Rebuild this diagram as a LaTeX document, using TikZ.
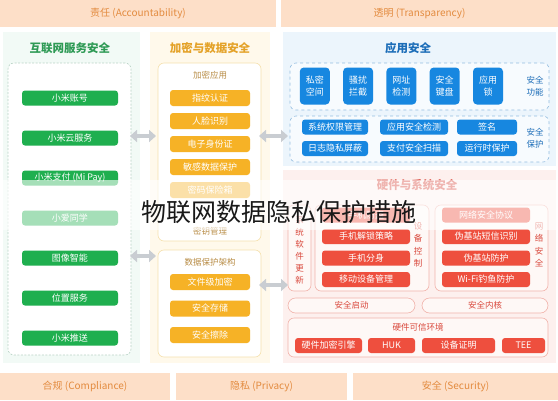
\documentclass[tikz,border=0pt]{standalone}
\usepackage{fontspec}
\setmainfont{Noto Sans CJK SC}
\usetikzlibrary{arrows.meta, positioning}
\definecolor{bandfill}{HTML}{FDDFC8}
\definecolor{bandtext}{HTML}{E38B3F}
\definecolor{mygreen}{HTML}{1FAF4F}
\definecolor{greentitle}{HTML}{2E9A55}
\definecolor{greenbg}{HTML}{F2FAF6}
\definecolor{greenline}{HTML}{B9D3C6}
\definecolor{myamber}{HTML}{F6B226}
\definecolor{ambertitle}{HTML}{E4A228}
\definecolor{amberbg}{HTML}{FFF9EB}
\definecolor{amberline}{HTML}{F5E1AE}
\definecolor{amberlabel}{HTML}{B88C45}
\definecolor{myblue}{HTML}{1787E0}
\definecolor{bluetitle}{HTML}{1C6DB8}
\definecolor{bluebg}{HTML}{ECF5FC}
\definecolor{blueline}{HTML}{94BDE0}
\definecolor{myred}{HTML}{EE4F3E}
\definecolor{redtitle}{HTML}{D9483C}
\definecolor{redbg}{HTML}{FDF0EE}
\definecolor{redline}{HTML}{F1B3AB}
\definecolor{arrowgray}{HTML}{C9CDD2}

\begin{document}
\begin{tikzpicture}[x=1pt, y=-1pt,
    band/.style={rectangle, fill=bandfill, text=bandtext, inner sep=0pt, minimum height=27pt, font=\fontsize{10}{12}\selectfont},
    panel/.style={rectangle, fill=#1, inner sep=0pt},
    ptitle/.style={text=#1, font=\fontsize{11.5}{13}\selectfont\bfseries},
    pframe/.style={rectangle, rounded corners=6pt, draw=#1, line width=0.6pt, inner sep=0pt},
    btn/.style={rectangle, rounded corners=3pt, fill=#1, text=white, inner sep=0pt, minimum height=15pt, font=\fontsize{9}{10}\selectfont},
    sublabel/.style={text=#1, font=\fontsize{8.5}{10}\selectfont, inner sep=0pt},
    vlabel/.style={text=#1, font=\fontsize{8.5}{12.5}\selectfont, align=center, inner sep=0pt},
    dbl/.style={{Triangle[width=12pt,length=7pt]}-{Triangle[width=12pt,length=7pt]}, line width=4.5pt, draw=arrowgray}
  ]
  \fill[white] (0,0) rectangle (558,400);
  \useasboundingbox (0,0) rectangle (558,400);

  % top and bottom bands
  \node[band, minimum width=276pt] (accnt) at (138,13.5) {责任 (Accountability)};
  \node[band, minimum width=277pt] (transp) at (419.5,13.5) {透明 (Transparency)};
  \node[band, minimum width=170pt] (complc) at (85,386.5) {合规 (Compliance)};
  \node[band, minimum width=171pt] (privcy) at (261.5,386.5) {隐私 (Privacy)};
  \node[band, minimum width=205pt] (securt) at (455.5,386.5) {安全 (Security)};

  % internet services
  \node[panel=greenbg, minimum width=137pt, minimum height=331pt] (inetbg) at (71.5,197.5) {};
  \node[ptitle=greentitle] (inettitle) at (70,48) {互联网服务安全};
  \node[pframe=greenline, dash pattern=on 2pt off 1.5pt, fill=white, minimum width=123pt, minimum height=292pt] (inetbox) at (69.5,209) {};
  \foreach \t [count=\i] in {小米账号, 小米云服务, 小米支付 (Mi Pay), 小爱同学, 图像智能, 位置服务, 小米推送}
    \node[btn=mygreen, minimum width=96pt] (sv\i) at (70,58+40*\i) {\t};

  % encryption and data
  \node[panel=amberbg, minimum width=120pt, minimum height=331pt] (encbg) at (210,197.5) {};
  \node[ptitle=ambertitle] (enctitle) at (210,48) {加密与数据安全};
  \node[pframe=amberline, fill=white, minimum width=103pt, minimum height=178pt] (encbox) at (209.5,152) {};
  \node[sublabel=amberlabel] (enclabel) at (210,75) {加密应用};
  \foreach \t [count=\i] in {指纹认证, 人脸识别, 电子身份证, 敏感数据保护, 密码保险箱}
    \node[btn=myamber, minimum width=80pt, minimum height=16pt] (ea\i) at (210,75+23*\i) {\t};
  \node[sublabel=amberlabel] (keymgmt) at (210,231) {密钥管理};
  \node[pframe=amberline, fill=white, minimum width=103pt, minimum height=107pt] (databox) at (209.5,303.5) {};
  \node[sublabel=amberlabel] (datalabel) at (210,262) {数据保护架构};
  \foreach \t [count=\i] in {文件级加密, 安全存储, 安全擦除}
    \node[btn=myamber, minimum width=80pt, minimum height=16pt] (dp\i) at (210,255.5+26.5*\i) {\t};

  % application security
  \node[panel=bluebg, minimum width=273pt, minimum height=134pt] (appbg) at (419.5,99) {};
  \node[ptitle=bluetitle] (apptitle) at (408,48) {应用安全};
  \node[pframe=blueline, dashed, fill=white!60!bluebg, minimum width=259pt, minimum height=47pt] (funcbox) at (419.5,86.5) {};
  \foreach \t [count=\i] in {私密\\空间, 骚扰\\拦截, 网址\\检测, 安全\\键盘, 应用\\锁}
    \node[btn=myblue, rounded corners=4pt, minimum width=30pt, minimum height=37pt, align=center, font=\fontsize{9}{11.5}\selectfont] (fn\i) at (271.5+43.3*\i,86) {\t};
  \node[vlabel=bluetitle] (funclabel) at (535,86) {安全\\功能};
  \node[pframe=blueline, dashed, fill=white!60!bluebg, minimum width=259pt, minimum height=46pt] (protbox) at (419.5,139) {};
  \node[btn=myblue, minimum width=66pt] (pr1) at (335,127) {系统权限管理};
  \node[btn=myblue, minimum width=68pt] (pr2) at (414,127) {应用安全检测};
  \node[btn=myblue, minimum width=60pt] (pr3) at (487,127) {签名};
  \node[btn=myblue, minimum width=66pt] (pr4) at (335,148.5) {日志隐私屏蔽};
  \node[btn=myblue, minimum width=68pt] (pr5) at (414,148.5) {支付安全扫描};
  \node[btn=myblue, minimum width=60pt] (pr6) at (487,148.5) {运行时保护};
  \node[vlabel=bluetitle] (protlabel) at (535,138) {安全\\保护};

  % hardware and system
  \node[panel=redbg, minimum width=273pt, minimum height=193pt] (hwbg) at (419.5,266.5) {};
  \node[ptitle=redtitle] (hwtitle) at (417,185) {硬件与系统安全};
  \node[pframe=redline, fill=white!50!redbg, minimum width=23pt, minimum height=86pt] (updbox) at (299.5,248) {};
  \node[vlabel=redtitle, font=\fontsize{8.5}{12}\selectfont] (updlabel) at (299.5,250) {系\\统\\软\\件\\更\\新};
  \node[pframe=redline, fill=white!50!redbg, minimum width=114pt, minimum height=86pt] (devbox) at (372,248) {};
  \foreach \t [count=\i] in {手机防盗, 手机解锁策略, 手机分身, 移动设备管理}
    \node[btn=myred, minimum width=88pt] (dc\i) at (366,193.5+21.5*\i) {\t};
  \node[vlabel=redtitle] (devlabel) at (418,245) {设\\备\\控\\制};
  \node[pframe=redline, fill=white!50!redbg, minimum width=113pt, minimum height=86pt] (netbox) at (491.5,248) {};
  \foreach \t [count=\i] in {网络安全协议, 伪基站短信识别, 伪基站防护, Wi-Fi钓鱼防护}
    \node[btn=myred, minimum width=88pt] (ns\i) at (486,193.5+21.5*\i) {\t};
  \node[vlabel=redtitle] (netlabel) at (539,245) {网\\络\\安\\全};
  \node[pframe=redline, rounded corners=7.5pt, fill=white!50!redbg, text=redtitle, minimum width=127pt, minimum height=15pt, font=\fontsize{8.5}{10}\selectfont] (sboot) at (351.5,305.5) {安全启动};
  \node[pframe=redline, rounded corners=7.5pt, fill=white!50!redbg, text=redtitle, minimum width=126pt, minimum height=15pt, font=\fontsize{8.5}{10}\selectfont] (skern) at (485,305.5) {安全内核};
  \node[pframe=redline, fill=white!50!redbg, minimum width=260pt, minimum height=39pt] (teebox) at (418,337.5) {};
  \node[sublabel=redtitle] (teelabel) at (418,327) {硬件可信环境};
  \node[btn=myred, minimum width=67pt] (hw1) at (328.5,345.5) {硬件加密引擎};
  \node[btn=myred, minimum width=47pt] (hw2) at (391.5,345.5) {HUK};
  \node[btn=myred, minimum width=73pt] (hw3) at (458.5,345.5) {设备证明};
  \node[btn=myred, minimum width=43pt] (hw4) at (523.5,345.5) {TEE};

  % links between panels
  \coordinate (la) at (130,136);
  \coordinate (lb) at (156,136);
  \coordinate (lc) at (130,256);
  \coordinate (ld) at (156,256);
  \coordinate (ra) at (259,136);
  \coordinate (rb) at (288,136);
  \coordinate (rc) at (259,285);
  \coordinate (rd) at (288,285);
  \draw[dbl] (la) -- (lb);
  \draw[dbl] (lc) -- (ld);
  \draw[dbl] (ra) -- (rb);
  \draw[dbl] (rc) -- (rd);

  % heading over a pale veil
  \node[fill=white, fill opacity=0.6, minimum width=558pt, minimum height=50pt, inner sep=0pt] (veil) at (279,205) {};
  \node[text=black!90, font=\fontsize{25}{28}\selectfont, inner sep=0pt] (maintitle) at (279,212) {物联网数据隐私保护措施};
\end{tikzpicture}
\end{document}
